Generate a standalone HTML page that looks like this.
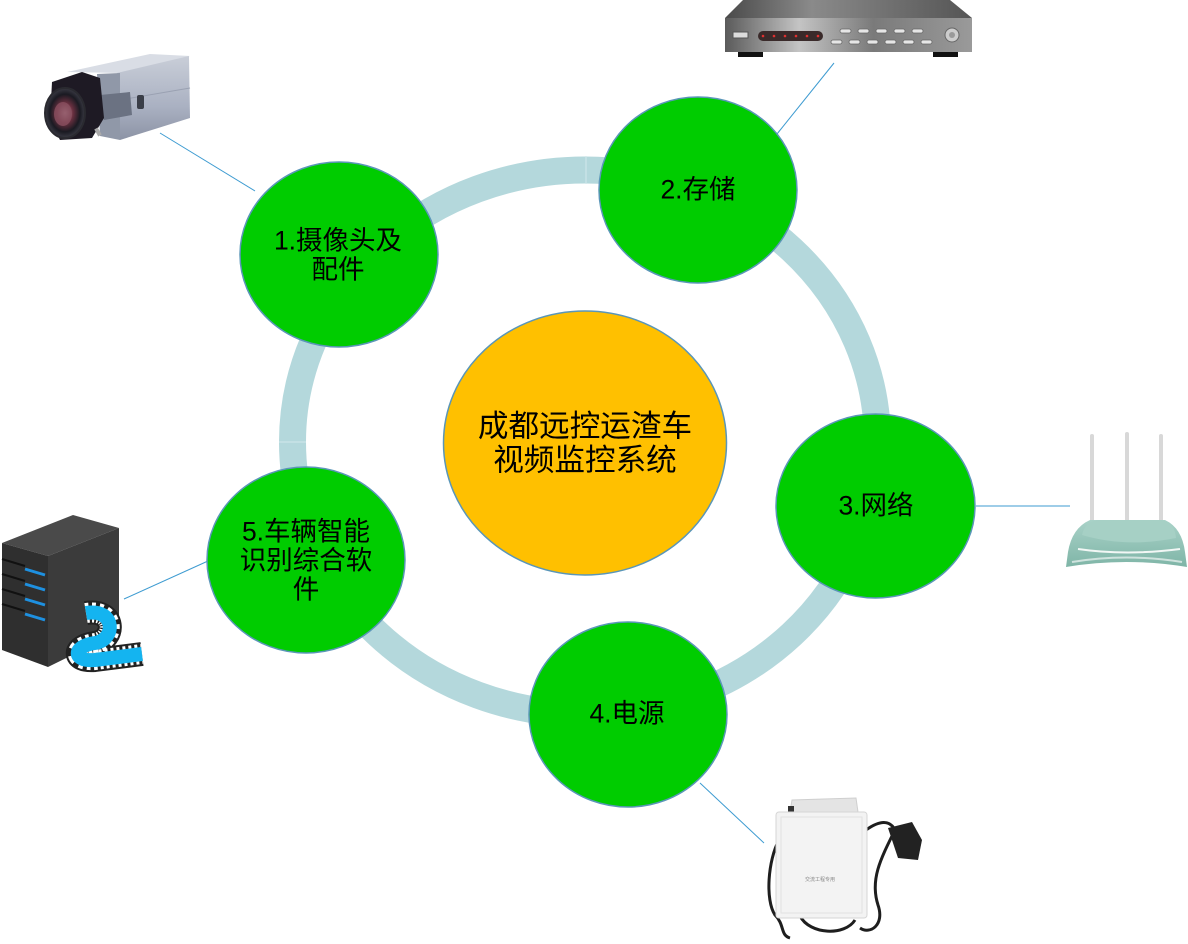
<!DOCTYPE html>
<html>
<head>
<meta charset="utf-8">
<style>
  html,body{margin:0;padding:0;background:#fff;}
  body{width:1188px;height:944px;overflow:hidden;}
  svg{display:block;}
  .t{font-family:"Liberation Sans","Noto Sans CJK SC","WenQuanYi Zen Hei",sans-serif;fill:#000;text-anchor:middle;}
</style>
</head>
<body>
<svg width="1188" height="944" viewBox="0 0 1188 944" xmlns="http://www.w3.org/2000/svg">
  <defs>
    <linearGradient id="nvrTop" x1="0" y1="0" x2="1" y2="0">
      <stop offset="0" stop-color="#4a4a4a"/>
      <stop offset="0.35" stop-color="#8a8a8a"/>
      <stop offset="1" stop-color="#555"/>
    </linearGradient>
    <linearGradient id="nvrFront" x1="0" y1="0" x2="1" y2="0">
      <stop offset="0" stop-color="#5a5a5a"/>
      <stop offset="0.3" stop-color="#c4c4c4"/>
      <stop offset="0.6" stop-color="#7a7a7a"/>
      <stop offset="1" stop-color="#9a9a9a"/>
    </linearGradient>
    <linearGradient id="camBody" x1="0" y1="0" x2="0" y2="1">
      <stop offset="0" stop-color="#c9ced8"/>
      <stop offset="0.6" stop-color="#aab1c2"/>
      <stop offset="1" stop-color="#8c93a5"/>
    </linearGradient>
    <radialGradient id="lens" cx="0.5" cy="0.5" r="0.5">
      <stop offset="0" stop-color="#c9a0a8"/>
      <stop offset="0.4" stop-color="#6a3040"/>
      <stop offset="0.75" stop-color="#1a1a22"/>
      <stop offset="1" stop-color="#3a3a44"/>
    </radialGradient>
    <linearGradient id="router" x1="0" y1="0" x2="0" y2="1">
      <stop offset="0" stop-color="#a9d2c8"/>
      <stop offset="1" stop-color="#7fb5a7"/>
    </linearGradient>
  </defs>

  <!-- ring -->
  <ellipse cx="585" cy="442" rx="292.5" ry="272" fill="none" stroke="#b4d8dc" stroke-width="27"/>
  <line x1="586" y1="156" x2="586" y2="184" stroke="#d2e8eb" stroke-width="1"/>
  <line x1="279" y1="442" x2="306" y2="442" stroke="#d2e8eb" stroke-width="1"/>

  <!-- connectors -->
  <g stroke="#3d9bd1" stroke-width="1" fill="none">
    <line x1="160" y1="133" x2="255" y2="191"/>
    <line x1="834" y1="63" x2="777" y2="134"/>
    <line x1="976" y1="506" x2="1070" y2="506"/>
    <line x1="700" y1="783" x2="764" y2="843"/>
    <line x1="124" y1="599" x2="208" y2="561"/>
  </g>

  <!-- center -->
  <ellipse cx="585" cy="443" rx="141.5" ry="132" fill="#ffc000" stroke="#5a96b8" stroke-width="1.5"/>
  <text class="t" x="585" y="436.5" font-size="30.6">成都远控运渣车</text>
  <text class="t" x="585" y="470.5" font-size="30.6">视频监控系统</text>

  <!-- green nodes -->
  <g fill="#00cc00" stroke="#5a96b8" stroke-width="1.5">
    <ellipse cx="339" cy="254.5" rx="99" ry="92.5"/>
    <ellipse cx="698" cy="190" rx="99" ry="93"/>
    <ellipse cx="875.5" cy="506" rx="99.5" ry="92"/>
    <ellipse cx="628" cy="714.5" rx="99" ry="92.5"/>
    <ellipse cx="306" cy="560" rx="99" ry="93"/>
  </g>
  <text class="t" x="338" y="249.5" font-size="26.5">1.摄像头及</text>
  <text class="t" x="338" y="278.5" font-size="26.5">配件</text>
  <text class="t" x="698" y="198.5" font-size="26.5">2.存储</text>
  <text class="t" x="876" y="514.5" font-size="26.5">3.网络</text>
  <text class="t" x="627" y="722.5" font-size="26.5">4.电源</text>
  <text class="t" x="306" y="540.5" font-size="26.5">5.车辆智能</text>
  <text class="t" x="306" y="569.5" font-size="26.5">识别综合软</text>
  <text class="t" x="306" y="598.5" font-size="26.5">件</text>

  <!-- camera -->
  <g>
    <polygon points="67,72 150,54 190,56 120,73" fill="#d9dde5"/>
    <polygon points="117,73 189,56 190,118 120,140" fill="url(#camBody)"/>
    <line x1="120" y1="100" x2="190" y2="88" stroke="#9aa1b2" stroke-width="1"/>
    <polygon points="97,74 120,73 120,140 100,136" fill="#9098a8"/>
    <polygon points="100,95 130,92 132,115 104,120" fill="#6b7282"/>
    <rect x="137" y="95" width="7" height="14" rx="2" fill="#3a3e48"/>
    <path d="M52,82 L82,72 L100,78 L104,118 L92,138 L60,140 L50,120 Z" fill="#1e1a24"/>
    <ellipse cx="65" cy="113" rx="20" ry="25" fill="url(#lens)" stroke="#2a2a30" stroke-width="2"/>
    <ellipse cx="63" cy="114" rx="9" ry="12" fill="#8a5060" opacity="0.8"/>
    <rect x="96" y="128" width="4" height="8" fill="#aaa" transform="rotate(-30 98 132)"/>
  </g>

  <!-- NVR -->
  <g>
    <polygon points="743,0 950,0 972,18 725,18" fill="url(#nvrTop)"/>
    <rect x="725" y="18" width="247" height="34" fill="url(#nvrFront)"/>
    <rect x="738" y="52" width="25" height="5" fill="#111"/>
    <rect x="933" y="52" width="25" height="5" fill="#111"/>
    <rect x="733" y="32" width="15" height="6" fill="#ddd" stroke="#555" stroke-width="1"/>
    <rect x="758" y="31" width="65" height="10" rx="5" fill="#3a2a2a"/>
    <g fill="#e03030">
      <circle cx="763" cy="36" r="1.3"/><circle cx="774" cy="36" r="1.3"/><circle cx="785" cy="36" r="1.3"/>
      <circle cx="796" cy="36" r="1.3"/><circle cx="807" cy="36" r="1.3"/><circle cx="818" cy="36" r="1.3"/>
    </g>
    <g fill="#e6e6e6" stroke="#666" stroke-width="0.8">
      <rect x="840" y="29" width="11" height="4" rx="2"/><rect x="858" y="29" width="11" height="4" rx="2"/>
      <rect x="876" y="29" width="11" height="4" rx="2"/><rect x="894" y="29" width="11" height="4" rx="2"/>
      <rect x="912" y="29" width="11" height="4" rx="2"/>
      <rect x="831" y="40" width="11" height="4" rx="2"/><rect x="849" y="40" width="11" height="4" rx="2"/>
      <rect x="867" y="40" width="11" height="4" rx="2"/><rect x="885" y="40" width="11" height="4" rx="2"/>
      <rect x="903" y="40" width="11" height="4" rx="2"/><rect x="921" y="40" width="11" height="4" rx="2"/>
    </g>
    <circle cx="952" cy="35" r="7" fill="#ccc" stroke="#666" stroke-width="1"/>
    <circle cx="952" cy="35" r="3" fill="#999"/>
  </g>

  <!-- router -->
  <g>
    <rect x="1090" y="434" width="4" height="90" rx="2" fill="#d8d8d8"/>
    <rect x="1125" y="432" width="4" height="92" rx="2" fill="#d8d8d8"/>
    <rect x="1159" y="434" width="4" height="90" rx="2" fill="#d8d8d8"/>
    <path d="M1068,552 Q1072,528 1090,520 L1165,520 Q1182,528 1185,552 L1187,567 Q1126,557 1066,567 Z" fill="url(#router)"/>
    <path d="M1082,535 Q1085,521 1100,520 L1160,520 Q1175,522 1176,538 Q1126,548 1082,535 Z" fill="#a6d0c5"/>
    <path d="M1078,549 Q1126,556 1180,549" stroke="#f2f7f5" stroke-width="2" fill="none"/>
    <path d="M1072,562 Q1126,553 1182,562" stroke="#cfe3de" stroke-width="2" fill="none"/>
  </g>

  <!-- server -->
  <g>
    <polygon points="2,543 73,515 119,528 48,556" fill="#4a4a4a"/>
    <polygon points="2,543 48,556 48,667 2,650" fill="#2f2f2f"/>
    <polygon points="48,556 119,528 119,632 48,667" fill="#3b3b3b"/>
    <g stroke="#111" stroke-width="2">
      <line x1="2" y1="559" x2="25" y2="566"/>
      <line x1="2" y1="574" x2="25" y2="581"/>
      <line x1="2" y1="589" x2="25" y2="596"/>
      <line x1="2" y1="604" x2="25" y2="611"/>
    </g>
    <g stroke="#1e90e0" stroke-width="3">
      <line x1="25" y1="569" x2="45" y2="575"/>
      <line x1="25" y1="584" x2="45" y2="590"/>
      <line x1="25" y1="599" x2="45" y2="605"/>
      <line x1="25" y1="614" x2="45" y2="620"/>
    </g>
    <!-- film strip -->
    <path d="M86,613 C116,608 116,640 95,643 C72,646 72,662 95,660 L142,654" fill="none" stroke="#222" stroke-width="24"/>
    <path d="M86,613 C116,608 116,640 95,643 C72,646 72,662 95,660 L142,654" fill="none" stroke="#fff" stroke-width="20" stroke-dasharray="3 3"/>
    <path d="M86,613 C116,608 116,640 95,643 C72,646 72,662 95,660 L142,654" fill="none" stroke="#14b4f0" stroke-width="14"/>
  </g>

  <!-- power box -->
  <g>
    <path d="M790,812 L792,800 L856,798 L858,812 Z" fill="#e4e4e4" stroke="#cfcfcf" stroke-width="1"/>
    <path d="M779,840 C768,860 765,900 775,915 C785,925 780,935 790,938" fill="none" stroke="#1e1e1e" stroke-width="3"/>
    <path d="M866,830 C880,820 890,820 895,830 C880,860 870,880 878,905 C885,925 870,935 860,928" fill="none" stroke="#1e1e1e" stroke-width="3"/>
    <path d="M800,916 C810,935 845,936 855,920" fill="none" stroke="#1e1e1e" stroke-width="3"/>
    <rect x="788" y="806" width="6" height="10" fill="#333"/>
    <rect x="776" y="812" width="91" height="106" rx="3" fill="#f3f3f3" stroke="#d6d6d6" stroke-width="1"/>
    <rect x="781" y="817" width="81" height="96" fill="none" stroke="#e2e2e2" stroke-width="1"/>
    <polygon points="888,828 912,822 922,840 918,860 898,858" fill="#222"/>
    <text x="820" y="881" font-size="5" fill="#888" text-anchor="middle" font-family="Liberation Sans,Noto Sans CJK SC,sans-serif">交流工程专用</text>
  </g>
</svg>
</body>
</html>
